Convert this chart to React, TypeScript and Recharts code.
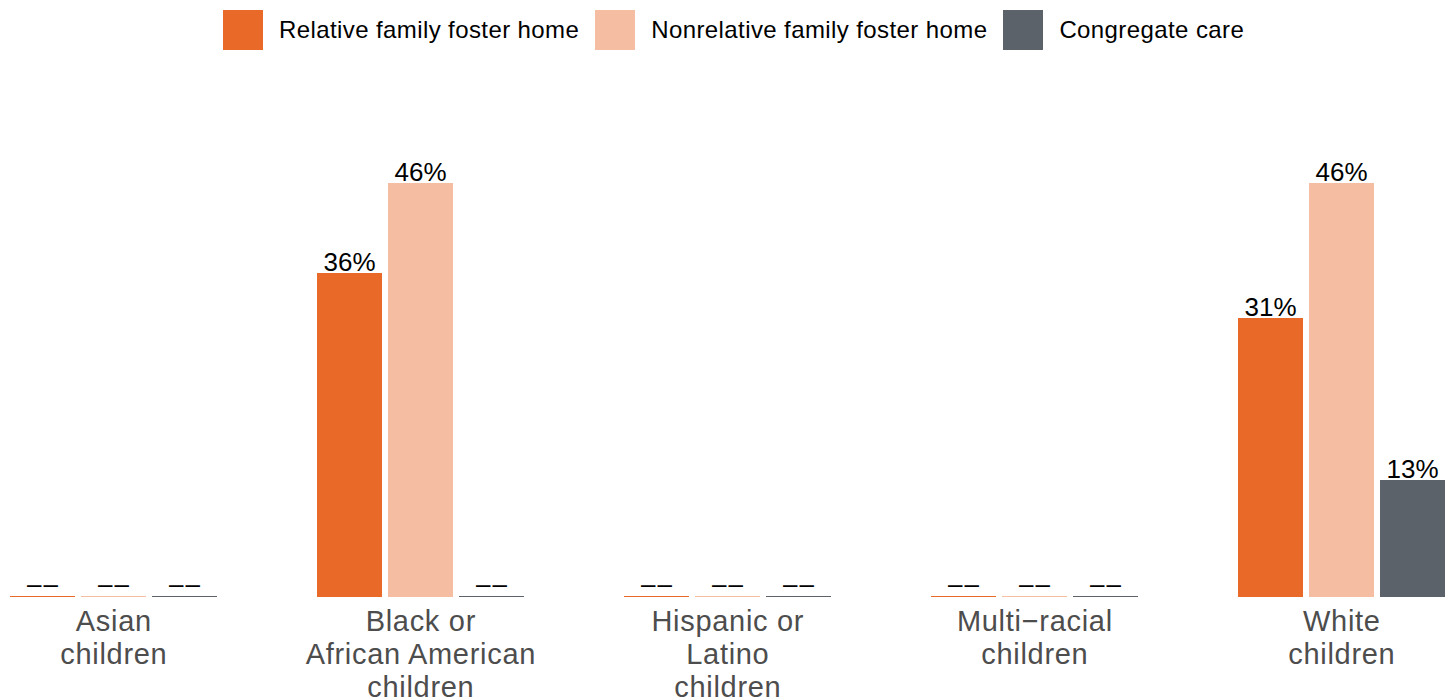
import React from "react";
import { BarChart, Bar, XAxis, YAxis, LabelList } from "recharts";

const categoryLines: string[][] = [
  ["Asian", "children"],
  ["Black or", "African American", "children"],
  ["Hispanic or", "Latino", "children"],
  ["Multi\u2212racial", "children"],
  ["White", "children"],
];
const categories = categoryLines.map((l) => l.join(" "));
// null = suppressed value, shown as "––"
const relative: (number | null)[] = [null, 36, null, null, 31];
const nonrelative: (number | null)[] = [null, 46, null, null, 46];
const congregate: (number | null)[] = [null, null, null, null, 13];

const seriesNames = ["Relative family foster home", "Nonrelative family foster home", "Congregate care"];
const colors = ["#E96A28", "#F5BEA3", "#5C6269"];
const seriesArrays = [relative, nonrelative, congregate];
const keys = ["relative", "nonrelative", "congregate"];

const data = categories.map((c, i) => ({
  cat: c,
  relative: relative[i] ?? 0,
  nonrelative: nonrelative[i] ?? 0,
  congregate: congregate[i] ?? 0,
}));

const FONT = "'Liberation Sans', Arial, Helvetica, sans-serif";

const CatTick = (props: any) => {
  const { x, y, payload } = props;
  const lines = categoryLines[payload.index] ?? [String(payload.value)];
  return (
    <text
      x={x}
      y={y}
      textAnchor="middle"
      fill="#4d4d4d"
      fontSize={29}
      fontFamily={FONT}
      style={{ letterSpacing: "0.7px" }}
    >
      {lines.map((l, i) => (
        <tspan key={i} x={x + 0.35} y={y + 33.5 + i * 33}>
          {l}
        </tspan>
      ))}
    </text>
  );
};

const makeLabel = (arr: (number | null)[]) => (props: any) => {
  const { x, y, width, index } = props;
  const v = arr[index];
  const missing = v == null;
  const txt = missing ? "\u2013\u2013" : `${v}%`;
  return (
    <text
      x={x + width / 2 + (missing ? 1 : 0)}
      y={y - (missing ? 3 : 2.5)}
      textAnchor="middle"
      fill="#000"
      fontSize={26}
      fontFamily={FONT}
      style={missing ? { letterSpacing: "2px" } : undefined}
    >
      {txt}
    </text>
  );
};

export default function App() {
  return (
    <div
      style={{
        position: "absolute",
        left: 0,
        top: 0,
        width: 1453,
        height: 698,
        overflow: "hidden",
        background: "#fff",
        fontFamily: FONT,
      }}
    >
      <div style={{ position: "absolute", left: 223, top: 10, display: "flex", alignItems: "center", height: 40 }}>
        {seriesNames.map((n, i) => (
          <div key={n} style={{ display: "flex", alignItems: "center", marginRight: 16 }}>
            <div style={{ width: 40, height: 40, background: colors[i] }} />
            <span
              style={{
                marginLeft: 16,
                fontSize: 24,
                letterSpacing: "0.4px",
                color: "#000",
                whiteSpace: "nowrap",
              }}
            >
              {n}
            </span>
          </div>
        ))}
      </div>
      <div style={{ position: "absolute", left: -40.5, top: 0 }}>
        <BarChart
          width={1535}
          height={698}
          data={data}
          margin={{ top: 147, right: 0, bottom: 0, left: 0 }}
          barGap={6}
        >
          <XAxis
            dataKey="cat"
            axisLine={false}
            tickLine={false}
            tickSize={0}
            tickMargin={0}
            height={101}
            interval={0}
            tick={<CatTick />}
          />
          <YAxis hide domain={[0, 50]} />
          {keys.map((k, i) => (
            <Bar
              key={k}
              dataKey={k}
              fill={colors[i]}
              barSize={65}
              minPointSize={1}
              isAnimationActive={false}
            >
              <LabelList dataKey={k} content={makeLabel(seriesArrays[i])} />
            </Bar>
          ))}
        </BarChart>
      </div>
    </div>
  );
}
